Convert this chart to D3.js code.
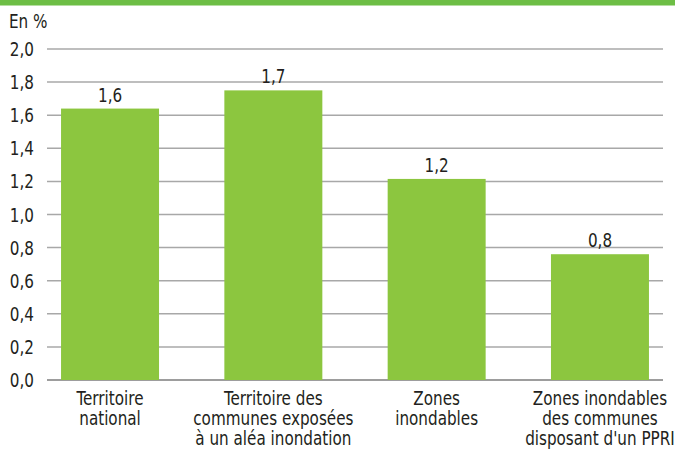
<!DOCTYPE html>
<html>
<head>
<meta charset="utf-8">
<script src="https://cdn.jsdelivr.net/npm/d3@7"></script>
<style>
  body { margin: 0; background: #fff; }
  svg text { font-family: "Liberation Sans Narrow", "DejaVu Sans Condensed", "Roboto", sans-serif; fill: #231f20; font-size: 19px; }
</style>
</head>
<body>
<svg id="chart" width="675" height="449"></svg>
<script>
var categories = [
  ["Territoire", "national"],
  ["Territoire des", "communes exposées", "à un aléa inondation"],
  ["Zones", "inondables"],
  ["Zones inondables", "des communes", "disposant d'un PPRI"]
];
var values = [1.64, 1.75, 1.215, 0.76];
var valueLabels = ["1,6", "1,7", "1,2", "0,8"];
var yTicks = [0, 0.2, 0.4, 0.6, 0.8, 1.0, 1.2, 1.4, 1.6, 1.8, 2.0];

var svg = d3.select("#chart");
var fmt = function (d) { return d3.format(".1f")(d).replace(".", ","); };
var sx = 0.89; // squeeze text horizontally, the original font is condensed
function place(px, py) { return "translate(" + px + "," + py + ") scale(" + sx + ",1)"; }

// top band
svg.append("rect").attr("x", 0).attr("y", 0).attr("width", 675).attr("height", 5.5).attr("fill", "#6dbe45");

svg.append("text").attr("transform", place(9, 28)).text("En %");

var x = d3.scaleBand().domain(d3.range(categories.length)).range([47, 663])
  .paddingInner(0.4).paddingOuter(0.086);
var y = d3.scaleLinear().domain([0, 2]).range([380, 49]);

// grid
svg.append("g").selectAll("line").data(yTicks).enter().append("line")
  .attr("x1", 47).attr("x2", 663)
  .attr("y1", function (d) { return y(d); }).attr("y2", function (d) { return y(d); })
  .attr("stroke", function (d) { return d === 0 ? "#9d9d9d" : "#a8a8a8"; })
  .attr("stroke-width", function (d) { return d === 0 ? 2 : 1.5; });

// y labels
svg.append("g").selectAll("text").data(yTicks).enter().append("text")
  .attr("transform", function (d) { return place(34, y(d) + 7); })
  .attr("text-anchor", "end")
  .text(fmt);

// bars
svg.append("g").selectAll("rect").data(values).enter().append("rect")
  .attr("x", function (d, i) { return x(i); })
  .attr("y", function (d) { return y(d); })
  .attr("width", x.bandwidth())
  .attr("height", function (d) { return y(0) - y(d); })
  .attr("fill", "#8cc63f");

// value labels
svg.append("g").selectAll("text").data(values).enter().append("text")
  .attr("transform", function (d, i) { return place(x(i) + x.bandwidth() / 2, y(d) - 7); })
  .attr("text-anchor", "middle")
  .text(function (d, i) { return valueLabels[i]; });

// category labels
var cat = svg.append("g").selectAll("text").data(categories).enter().append("text")
  .attr("text-anchor", "middle")
  .attr("transform", function (d, i) { return place(x(i) + x.bandwidth() / 2, 0); });
cat.selectAll("tspan").data(function (d) { return d; })
  .enter().append("tspan")
  .attr("x", 0)
  .attr("y", function (d, j) { return 405 + j * 20; })
  .text(function (d) { return d; });
</script>
</body>
</html>
